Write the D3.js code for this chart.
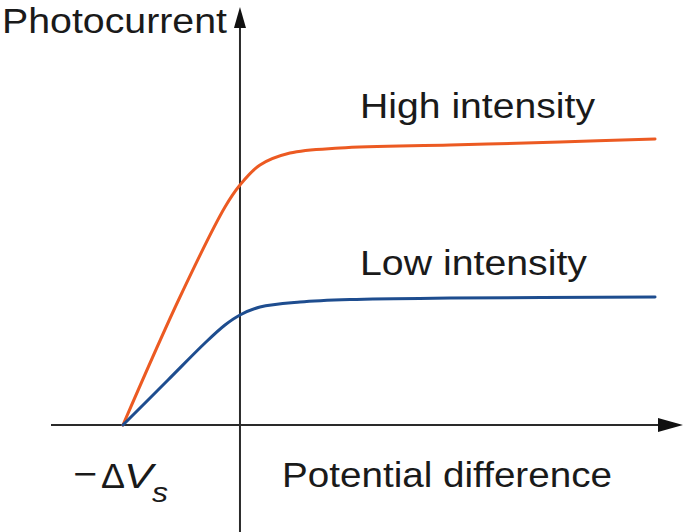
<!DOCTYPE html>
<html><head><meta charset="utf-8">
<script src="https://cdn.jsdelivr.net/npm/d3@7"></script>
<style>body{margin:0;background:#fff}svg{display:block}text{font-family:"Liberation Sans",Arial,sans-serif;fill:#1a1a1a}</style>
</head><body><svg id="c" width="685" height="532"></svg>
<script>
// Potential in units of ΔVs, photocurrent in arbitrary units
const highX = [-1.0, -0.513, -0.128, 0, 0.171, 0.427, 0.855, 1.795, 2.735, 3.547];
const highY = [0, 1.28, 2.18, 2.40, 2.60, 2.72, 2.77, 2.80, 2.83, 2.86];
const lowX = [-1.0, -0.615, -0.299, -0.128, 0, 0.171, 0.513, 0.94, 1.795, 3.547];
const lowY = [0, 0.45, 0.82, 1.00, 1.10, 1.18, 1.23, 1.255, 1.27, 1.28];
const seriesLabels = ["High intensity", "Low intensity"];
const axisLabels = ["Photocurrent", "Potential difference"];
const stopLabel = ["\u2212", "\u0394", "V", "s"];

const svg = d3.select("#c");
const x = d3.scaleLinear().domain([-1.615, 3.786]).range([51, 683]);
const y = d3.scaleLinear().domain([0, 4.18]).range([425, 7]);
const axisColor = "#2a2a2a";

// axes
svg.append("line").attr("x1", x(0)).attr("x2", x(0)).attr("y1", y(4.0)).attr("y2", 532)
  .attr("stroke", axisColor).attr("stroke-width", 2);
svg.append("line").attr("x1", x.range()[0]).attr("x2", x.range()[1] - 10).attr("y1", y(0)).attr("y2", y(0))
  .attr("stroke", axisColor).attr("stroke-width", 2);
// arrowheads
const tx = x(0), ty = y.range()[1];
svg.append("path").attr("d", `M${tx},${ty} L${tx-6},${ty+21} L${tx+6},${ty+21} Z`).attr("fill", "#111");
const hx = x.range()[1], hy = y(0);
svg.append("path").attr("d", `M${hx},${hy} L${hx-25},${hy-7} L${hx-25},${hy+7} Z`).attr("fill", "#111");

const line = d3.line().x(d => x(d[0])).y(d => y(d[1])).curve(d3.curveCatmullRom.alpha(0.5));
svg.append("path").datum(highX.map((v,i)=>[v, highY[i]])).attr("d", line)
  .attr("fill","none").attr("stroke","#ec5a22").attr("stroke-width",3).attr("stroke-linecap","round");
svg.append("path").datum(lowX.map((v,i)=>[v, lowY[i]])).attr("d", line)
  .attr("fill","none").attr("stroke","#1e4d8f").attr("stroke-width",3).attr("stroke-linecap","round");

function label(t, px, py, w, fs, italic) {
  const e = svg.append("text").attr("x", px).attr("y", py).attr("font-size", fs)
    .attr("textLength", w).attr("lengthAdjust", "spacingAndGlyphs").text(t);
  if (italic) e.attr("font-style", "italic");
}
label(axisLabels[0], 2, 33, 225, 35);
label(seriesLabels[0], 360, 118, 235, 35);
label(seriesLabels[1], 360, 275, 227, 35);
label(axisLabels[1], 282, 487, 330, 35);

label(stopLabel[0], 73, 486, 24, 35);
label(stopLabel[1], 101, 488, 24, 35);
label(stopLabel[2], 124, 488, 29, 35, true);
label(stopLabel[3], 152, 502, 16, 27, true);
</script></body></html>
